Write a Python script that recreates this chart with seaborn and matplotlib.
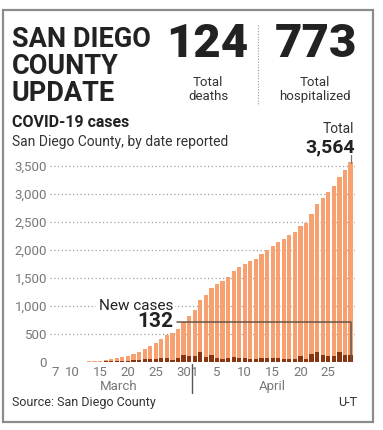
import pandas as pd
import matplotlib.pyplot as plt
import seaborn as sns
from matplotlib.patches import Rectangle
from matplotlib.lines import Line2D

# --- DATA ---
dates = (['Mar %d' % d for d in range(7, 32)] +
         ['Apr %d' % d for d in range(1, 30)])
total_cases = [1, 1, 2, 2, 3, 6, 10, 16, 22, 34, 50, 68, 90, 115, 145, 180,
               225, 285, 335, 415, 488, 519, 595, 715, 820,
               935, 1105, 1200, 1320, 1400, 1450, 1525, 1620, 1690, 1755,
               1800, 1845, 1925, 2005, 2080, 2150, 2205, 2260, 2320, 2425,
               2485, 2635, 2818, 2935, 3035, 3135, 3308, 3432, 3564]
new_cases = [1, 0, 1, 0, 1, 3, 4, 6, 6, 12, 16, 18, 22, 25, 30, 35,
             45, 60, 50, 80, 73, 31, 76, 120, 105,
             115, 170, 95, 120, 80, 50, 75, 95, 70, 65,
             45, 45, 80, 80, 75, 70, 55, 55, 60, 105,
             60, 150, 183, 117, 100, 100, 173, 124, 132]
xtick_pos = [0, 3, 8, 13, 18, 23, 25, 29, 34, 39, 44, 49]
xtick_labels = ['7', '10', '15', '20', '25', '30', '1', '5', '10', '15', '20', '25']
ytick_vals = [0, 500, 1000, 1500, 2000, 2500, 3000, 3500]
total_deaths = 124
total_hosp = 773

LIGHT = '#f8a170'
DARK = '#8a3510'
GREY = '#777777'
INK = '#222222'

df = pd.DataFrame({'day': range(len(dates)), 'date': dates,
                   'total': total_cases, 'new': new_cases})

sns.set_theme(style='white')
plt.rcParams['font.family'] = ['Roboto', 'DejaVu Sans']

W, H = 383, 430
fig = plt.figure(figsize=(W / 100, H / 100), dpi=100)


def px(x, y):
    # pixel position -> figure fraction
    return x / W, 1 - y / H


# axes placed so bars line up with the reference
ax = fig.add_axes([50 / W, 1 - 362 / H, 305 / W, (362 - 160.4) / H])
sns.barplot(data=df, x='day', y='total', color=LIGHT, saturation=1,
            width=0.76, linewidth=0, ax=ax, zorder=2)
sns.barplot(data=df, x='day', y='new', color=DARK, saturation=1,
            width=0.76, linewidth=0, ax=ax, zorder=3)
ax.set_xlim(-1.0, 53.8)
ax.set_ylim(0, 3600)
ax.set_xlabel('')
ax.set_ylabel('')
ax.set_yticks(ytick_vals)
ax.set_yticklabels([f'{v:,}' for v in ytick_vals])
ax.set_xticks(xtick_pos)
ax.set_xticklabels(xtick_labels)
ax.tick_params(axis='both', length=0, labelsize=9.5, colors=GREY)
ax.tick_params(axis='y', pad=2)
ax.tick_params(axis='x', pad=3)
for s in ax.spines.values():
    s.set_visible(False)
ax.set_axisbelow(True)
ax.yaxis.grid(True, linestyle=(0, (1, 2)), color='#a0a0a0', lw=0.9)
ax.xaxis.grid(False)
ax.get_ygridlines()[0].set_visible(False)
ax.patch.set_alpha(0)

# new-cases callout
last = len(dates) - 1
ax.plot([21.8, last, last], [720, 720, 0], color='#6a5446', lw=1.1, zorder=4)
ax.text(21.1, 1000, 'New cases', ha='right', va='center', fontsize=11,
        color=INK, zorder=5,
        bbox=dict(facecolor='white', edgecolor='none', pad=1.5))
ax.text(21.1, 720, f'{new_cases[-1]}', ha='right', va='center', fontsize=15,
        fontweight='bold', color=INK, zorder=5)

# month labels and divider
fig.text(*px(119, 390), 'March', ha='center', va='baseline', fontsize=9.5, color=GREY)
fig.text(*px(272, 390), 'April', ha='center', va='baseline', fontsize=9.5, color=GREY)
fig.add_artist(Line2D([191.7 / W] * 2, [1 - 364 / H, 1 - 393 / H],
                      color='#555555', lw=1))

# header
for i, line in enumerate(['SAN DIEGO', 'COUNTY', 'UPDATE']):
    fig.text(*px(12, 47 + 27 * i), line, ha='left', va='baseline',
             fontsize=19.5, fontweight='bold', color=INK)
fig.text(*px(207.5, 57), f'{total_deaths}', ha='center', va='baseline',
         fontsize=34, fontweight='black', color=INK)
fig.text(*px(316, 57), f'{total_hosp}', ha='center', va='baseline',
         fontsize=34, fontweight='black', color=INK)
fig.add_artist(Line2D([258 / W] * 2, [1 - 25 / H, 1 - 105 / H],
                      color='#999999', lw=0.8, linestyle=(0, (1, 1.5))))
fig.text(*px(208, 100), 'Total\ndeaths', ha='center', va='baseline',
         fontsize=9.5, color='#333333', linespacing=1.1)
fig.text(*px(315, 100), 'Total\nhospitalized', ha='center', va='baseline',
         fontsize=9.5, color='#333333', linespacing=1.1)

fig.text(*px(12, 127), 'COVID-19 cases', ha='left', va='baseline',
         fontsize=11.5, fontweight='bold', color=INK)
fig.text(*px(12, 146), 'San Diego County, by date reported', ha='left',
         va='baseline', fontsize=10, color='#333333')
fig.text(*px(354, 133), 'Total', ha='right', va='baseline', fontsize=10,
         color='#333333')
fig.text(*px(355, 152), f'{total_cases[-1]:,}', ha='right', va='baseline',
         fontsize=14, fontweight='bold', color=INK)
fig.add_artist(Line2D([350.5 / W] * 2, [1 - 155 / H, 1 - 163 / H],
                      color='#777777', lw=0.9))

fig.text(*px(12, 406), 'Source: San Diego County', ha='left', va='baseline',
         fontsize=9, color='#333333')
fig.text(*px(357, 406), 'U-T', ha='right', va='baseline', fontsize=9,
         color='#333333')

# frame
fig.add_artist(Rectangle((2.5 / W, 1 - 422 / H), 370 / W, 412 / H,
                         transform=fig.transFigure, fill=False,
                         edgecolor='#8c8c8c', lw=1.6))

fig.savefig('out.png', dpi=100)
